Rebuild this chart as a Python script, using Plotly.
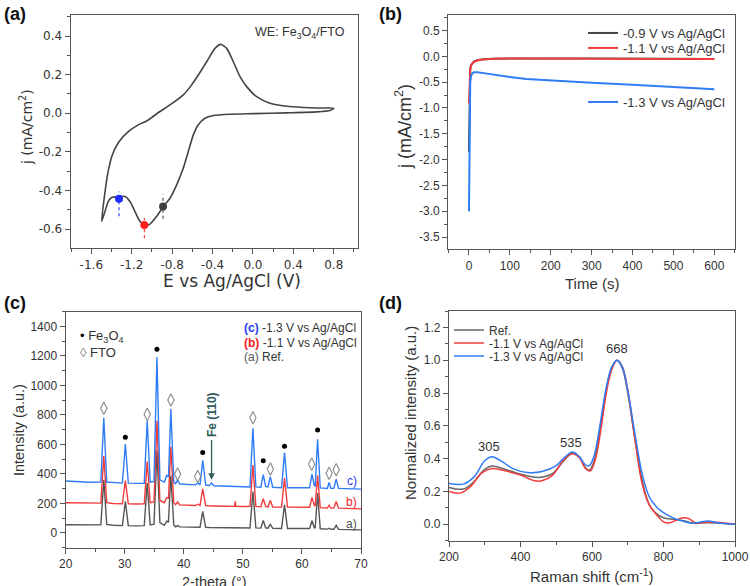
import plotly.graph_objects as go

W, H = 750, 586

# ---------------- (a) cyclic voltammogram ----------------
cv_E = [-1.498, -1.470, -1.440, -1.395, -1.330, -1.234, -1.135, -1.052, -0.920, -0.821,
        -0.689, -0.607, -0.541, -0.458, -0.376, -0.319, -0.260, -0.194, -0.128, -0.062,
        0.037, 0.169, 0.334, 0.499, 0.697, 0.800,
        0.763, 0.631, 0.334, 0.004, -0.227, -0.392, -0.475, -0.541, -0.590, -0.640,
        -0.689, -0.755, -0.821, -0.887, -0.953, -1.019, -1.069, -1.118, -1.168, -1.217,
        -1.267, -1.333, -1.399, -1.432, -1.465, -1.498]
cv_j = [-0.560, -0.430, -0.320, -0.220, -0.150, -0.095, -0.060, -0.040, 0.009, 0.043,
        0.095, 0.147, 0.198, 0.267, 0.336, 0.357, 0.336, 0.267, 0.190, 0.138,
        0.086, 0.052, 0.036, 0.030, 0.027, 0.026,
        0.014, 0.007, 0.002, -0.002, -0.005, -0.012, -0.026, -0.060, -0.112, -0.198,
        -0.284, -0.371, -0.440, -0.483, -0.534, -0.574, -0.581, -0.560, -0.509, -0.457,
        -0.431, -0.433, -0.436, -0.457, -0.509, -0.560]
dot_E = [-1.326, -1.075, -0.890]
dot_j = [-0.443, -0.579, -0.483]
dot_colors = ["#1f2cff", "#ff1f1f", "#404040"]
dot_lo = [-0.534, -0.647, -0.547]
dot_hi = [-0.405, -0.543, -0.419]

# ---------------- (b) chronoamperometry ----------------
t_k = [0, 1, 2, 3, 5, 8, 12, 20, 35, 60, 100, 200, 300, 400, 500, 600]
j_k = [-1.85, -0.60, -0.32, -0.24, -0.17, -0.13, -0.10, -0.075, -0.055, -0.045, -0.040,
       -0.040, -0.040, -0.042, -0.045, -0.050]
t_r = [0, 1, 2, 3, 5, 8, 12, 20, 35, 60, 100, 200, 300, 400, 500, 600]
j_r = [-0.91, -0.55, -0.35, -0.26, -0.19, -0.14, -0.11, -0.08, -0.06, -0.045, -0.040,
       -0.040, -0.040, -0.042, -0.045, -0.050]
t_b = [0, 0.5, 1, 2, 3, 5, 8, 12, 20, 40, 70, 100, 140, 200, 300, 400, 500, 600]
j_b = [-3.0, -2.2, -1.5, -0.8, -0.5, -0.38, -0.33, -0.31, -0.31, -0.33, -0.37, -0.40,
       -0.44, -0.47, -0.51, -0.55, -0.59, -0.635]

# ---------------- (c) XRD ----------------
tt = [20, 22, 24, 25.95, 26.45, 26.95, 28, 29.6, 30.1, 30.6, 32, 33.3, 33.8, 34.3, 34.95,
      35.45, 35.95, 36.7, 37.1, 37.4, 37.8, 38.3, 38.6, 38.95, 39.3, 41, 42.0, 42.35, 42.75,
      43.2, 43.7, 44.3, 44.7, 45.1, 47, 48.6, 48.7, 48.8, 50, 51.2, 51.7, 52.2, 53.05, 53.45,
      53.85, 54.25, 54.65, 55.05, 56.55, 57.05, 57.55, 59, 61.3, 61.7, 62.1, 62.25, 62.65,
      63.1, 64.3, 64.6, 64.9, 65.4, 65.8, 66.2, 68, 70]
xrd_c = [352, 347, 344, 345, 781, 345, 341, 338, 603, 338, 336, 336, 759, 345, 350,
         1193, 360, 345, 390, 380, 840, 345, 333, 360, 332, 328, 326, 340, 325,
         493, 325, 322, 338, 320, 316, 314, 314, 314, 312, 312, 709, 312, 310, 396,
         315, 312, 382, 310, 306, 545, 306, 305, 306, 399, 320, 318, 635,
         305, 302, 342, 302, 302, 365, 302, 300, 297]
xrd_b = [205, 203, 202, 202, 522, 205, 200, 198, 355, 198, 196, 198, 484, 205, 210,
         761, 220, 205, 240, 235, 585, 205, 192, 210, 190, 188, 186, 195, 187,
         299, 186, 184, 186, 183, 181, 180, 215, 180, 179, 180, 461, 180, 178, 232,
         180, 177, 220, 176, 175, 372, 175, 173, 174, 241, 185, 185, 390,
         172, 169, 188, 168, 168, 213, 168, 166, 163]
xrd_a = [56, 55, 53, 55, 360, 58, 52, 50, 214, 50, 48, 50, 338, 55, 60,
         560, 70, 52, 80, 75, 390, 55, 42, 50, 41, 40, 39, 42, 39,
         146, 38, 37, 37, 36, 35, 34, 34, 34, 33, 34, 281, 34, 33, 85,
         35, 32, 58, 31, 30, 191, 30, 29, 30, 83, 35, 35, 270,
         28, 26, 32, 25, 25, 51, 24, 23, 21]
fe3o4_tt = [30.1, 35.45, 43.2, 53.45, 57.05, 62.65]
fe3o4_y = [649, 1245, 545, 489, 588, 698]
fto_tt = [26.45, 33.8, 37.8, 38.95, 42.35, 51.7, 54.65, 61.65, 64.6, 65.8]
fto_y = [845, 804, 901, 400, 383, 781, 434, 466, 405, 428]

# ---------------- (d) Raman ----------------
ram_ref_x = [200, 240, 270, 300, 320, 350, 400, 450, 490, 520, 545, 565, 580, 592, 605,
             620, 640, 655, 670, 685, 700, 720, 740, 760, 780, 800, 830, 860, 890, 920, 950, 1000]
ram_ref_y = [0.225, 0.215, 0.26, 0.335, 0.355, 0.34, 0.305, 0.285, 0.31, 0.385, 0.435, 0.41,
             0.35, 0.33, 0.38, 0.55, 0.82, 0.955, 1.0, 0.95, 0.80, 0.52, 0.27, 0.12, 0.065,
             0.04, 0.03, 0.02, 0.005, 0.01, 0.008, 0.0]
ram_11_x = [200, 230, 260, 290, 320, 350, 400, 440, 460, 490, 520, 545, 565, 580, 595, 610,
            625, 640, 655, 670, 685, 700, 720, 740, 760, 780, 800, 815, 835, 855, 870, 890,
            920, 950, 1000]
ram_11_y = [0.20, 0.19, 0.23, 0.31, 0.34, 0.33, 0.30, 0.265, 0.265, 0.30, 0.39, 0.43, 0.405,
            0.345, 0.325, 0.40, 0.58, 0.80, 0.94, 1.0, 0.96, 0.82, 0.52, 0.25, 0.12, 0.06,
            0.015, 0.008, 0.025, 0.04, 0.035, 0.01, 0.012, 0.012, 0.0]
ram_13_x = [200, 240, 270, 300, 320, 345, 380, 420, 460, 500, 520, 545, 565, 580, 592, 605,
            620, 640, 655, 670, 685, 700, 720, 740, 760, 780, 800, 830, 860, 880, 900, 925,
            950, 1000]
ram_13_y = [0.249, 0.245, 0.289, 0.387, 0.411, 0.387, 0.338, 0.316, 0.322, 0.358, 0.401,
            0.441, 0.411, 0.366, 0.356, 0.411, 0.573, 0.836, 0.957, 1.0, 0.957, 0.816,
            0.553, 0.310, 0.168, 0.107, 0.071, 0.036, 0.016, 0.006, 0.012, 0.020, 0.010, 0.0]
raman_peaks = ["305", "535", "668"]
raman_label_x = [312, 541, 669]
raman_label_y = [0.475, 0.50, 1.069]

# tick labels
a_xt = [-1.6, -1.2, -0.8, -0.4, 0.0, 0.4, 0.8]
a_xl = ["-1.6", "-1.2", "-0.8", "-0.4", "0.0", "0.4", "0.8"]
a_yt = [-0.6, -0.4, -0.2, 0.0, 0.2, 0.4]
a_yl = ["-0.6", "-0.4", "-0.2", "0.0", "0.2", "0.4"]
b_xt = [0, 100, 200, 300, 400, 500, 600]
b_yt = [-3.5, -3.0, -2.5, -2.0, -1.5, -1.0, -0.5, 0.0, 0.5]
b_yl = ["-3.5", "-3.0", "-2.5", "-2.0", "-1.5", "-1.0", "-0.5", "0.0", "0.5"]
c_xt = [20, 30, 40, 50, 60, 70]
c_yt = [0, 200, 400, 600, 800, 1000, 1200, 1400]
d_xt = [200, 400, 600, 800, 1000]
d_yt = [0.0, 0.2, 0.4, 0.6, 0.8, 1.0, 1.2]
d_yl = ["0.0", "0.2", "0.4", "0.6", "0.8", "1.0", "1.2"]

GRAY = "#444444"
RED = "#f23b3b"
BLUE = "#2f7cf6"
AX = "#555555"
TXT = "#333333"
FONT = "Arial, Liberation Sans, sans-serif"
FONT_A = "DejaVu Sans, sans-serif"


def px(x):
    return x / W


def py(y):
    return 1 - y / H


fig = go.Figure()

# (a)
fig.add_trace(go.Scatter(x=cv_E, y=cv_j, mode="lines",
                         line=dict(color=GRAY, width=1.6, shape="spline", smoothing=0.6),
                         xaxis="x", yaxis="y", showlegend=False))
for e, lo, hi, c in zip(dot_E, dot_lo, dot_hi, dot_colors):
    fig.add_trace(go.Scatter(x=[e, e], y=[lo, hi], mode="lines",
                             line=dict(color=c, width=1.1, dash="dot"),
                             xaxis="x", yaxis="y", showlegend=False))
fig.add_trace(go.Scatter(x=dot_E, y=dot_j, mode="markers",
                         marker=dict(color=dot_colors, size=8),
                         xaxis="x", yaxis="y", showlegend=False))

# (b)
fig.add_trace(go.Scatter(x=t_k, y=j_k, mode="lines", line=dict(color=GRAY, width=2),
                         name="-0.9 V vs Ag/AgCl", xaxis="x2", yaxis="y2", legend="legend"))
fig.add_trace(go.Scatter(x=t_r, y=j_r, mode="lines", line=dict(color=RED, width=2),
                         name="-1.1 V vs Ag/AgCl", xaxis="x2", yaxis="y2", legend="legend2"))
fig.add_trace(go.Scatter(x=t_b, y=j_b, mode="lines", line=dict(color=BLUE, width=2),
                         name="-1.3 V vs Ag/AgCl", xaxis="x2", yaxis="y2", legend="legend3"))

# (c)
fig.add_trace(go.Scatter(x=tt, y=xrd_a, mode="lines", line=dict(color="#555555", width=1.4),
                         xaxis="x3", yaxis="y3", showlegend=False))
fig.add_trace(go.Scatter(x=tt, y=xrd_b, mode="lines", line=dict(color=RED, width=1.4),
                         xaxis="x3", yaxis="y3", showlegend=False))
fig.add_trace(go.Scatter(x=tt, y=xrd_c, mode="lines", line=dict(color=BLUE, width=1.4),
                         xaxis="x3", yaxis="y3", showlegend=False))
fig.add_trace(go.Scatter(x=fe3o4_tt, y=fe3o4_y, mode="markers",
                         marker=dict(color="black", size=5), xaxis="x3", yaxis="y3",
                         showlegend=False))
fig.add_trace(go.Scatter(x=fto_tt, y=fto_y, mode="markers",
                         marker=dict(symbol="diamond-tall-open", color="#8a8a8a", size=9,
                                     line=dict(width=1.1)),
                         xaxis="x3", yaxis="y3", showlegend=False))

# (d)
fig.add_trace(go.Scatter(x=ram_ref_x, y=ram_ref_y, mode="lines",
                         line=dict(color="#666666", width=1.5, shape="spline"),
                         name="Ref.", xaxis="x4", yaxis="y4", legend="legend4"))
fig.add_trace(go.Scatter(x=ram_11_x, y=ram_11_y, mode="lines",
                         line=dict(color=RED, width=1.5, shape="spline"),
                         name="-1.1 V vs Ag/AgCl", xaxis="x4", yaxis="y4", legend="legend5"))
fig.add_trace(go.Scatter(x=ram_13_x, y=ram_13_y, mode="lines",
                         line=dict(color=BLUE, width=1.5, shape="spline"),
                         name="-1.3 V vs Ag/AgCl", xaxis="x4", yaxis="y4", legend="legend6"))


def axis(domain, rng, anchor, tickvals, ticktext, minor_dtick, minor_tick0, fsize, family):
    return dict(domain=domain, range=rng, anchor=anchor, showline=True, mirror=True,
                linecolor=AX, linewidth=1.3, ticks="outside", ticklen=5, tickwidth=1.2,
                tickcolor=AX, tickfont=dict(size=fsize, color=TXT, family=family),
                tickmode="array", tickvals=tickvals, ticktext=ticktext,
                minor=dict(ticks="outside", ticklen=3, tickwidth=1, tickcolor=AX,
                           dtick=minor_dtick, tick0=minor_tick0),
                showgrid=False, zeroline=False, automargin=False)


fig.update_layout(
    width=W, height=H, margin=dict(l=0, r=0, t=0, b=0),
    paper_bgcolor="white", plot_bgcolor="white", font=dict(family=FONT, color=TXT),
    xaxis=axis([px(70.7), px(358)], [-1.804, 1.04], "y", a_xt, a_xl, 0.2, -1.6, 12, FONT_A),
    yaxis=axis([py(248), py(15)], [-0.698, 0.509], "x", a_yt, a_yl, 0.1, 0, 12, FONT_A),
    xaxis2=axis([px(448.3), px(735)], [-50.6, 650.6], "y2", b_xt, [str(v) for v in b_xt], 50, 0, 12, FONT),
    yaxis2=axis([py(249), py(15)], [-3.73, 0.8], "x2", b_yt, b_yl, 0.25, 0, 12, FONT),
    xaxis3=axis([px(65.7), px(361)], [20, 70], "y3", c_xt, [str(v) for v in c_xt], 5, 20, 12, FONT),
    yaxis3=axis([py(547.7), py(311.7)], [-100, 1500], "x3", c_yt, [str(v) for v in c_yt], 100, 0, 12, FONT),
    xaxis4=axis([px(449), px(735)], [200, 1000], "y4", d_xt, [str(v) for v in d_xt], 100, 200, 12, FONT),
    yaxis4=axis([py(540.7), py(311)], [-0.1, 1.3], "x4", d_yt, d_yl, 0.1, 0, 12, FONT),
)

leg_common = dict(bgcolor="rgba(0,0,0,0)", borderwidth=0, xanchor="left", yanchor="middle",
                  itemwidth=30, tracegroupgap=0)
fig.update_layout(
    legend=dict(x=px(583), y=py(33), font=dict(size=13, color=TXT), **leg_common),
    legend2=dict(x=px(583), y=py(48), font=dict(size=13, color=TXT), **leg_common),
    legend3=dict(x=px(583), y=py(102), font=dict(size=13, color=TXT), **leg_common),
    legend4=dict(x=px(449), y=py(330), font=dict(size=12, color=TXT), **leg_common),
    legend5=dict(x=px(449), y=py(343), font=dict(size=12, color=TXT), **leg_common),
    legend6=dict(x=px(449), y=py(356), font=dict(size=12, color=TXT), **leg_common),
)

ann = []
# panel letters
for lab, x, y in [("(a)", 2, 14), ("(b)", 377, 14), ("(c)", 2, 303), ("(d)", 377, 303)]:
    ann.append(dict(text="<b>" + lab + "</b>", x=px(x), y=py(y), xref="paper", yref="paper",
                    xanchor="left", yanchor="middle", showarrow=False,
                    font=dict(size=18, color="#111", family=FONT)))
# axis titles
titles = [
    ("E vs Ag/AgCl (V)", 232, 281, 0, 17, FONT_A),
    ("j (mA/cm<sup>2</sup>)", 26, 127, -90, 14, FONT_A),
    ("Time (s)", 592, 283, 0, 15, FONT),
    ("j (mA/cm<sup>2</sup>)", 403, 127, -90, 18, FONT),
    ("2-theta (°)", 214, 582, 0, 14.5, FONT),
    ("Intensity (a.u.)", 19, 430, -90, 14.5, FONT),
    ("Raman shift (cm<sup>-1</sup>)", 592, 575, 0, 15, FONT),
    ("Normalized intensity (a.u.)", 410, 413, -90, 15, FONT),
]
for txt, x, y, ang, fs, fam in titles:
    ann.append(dict(text=txt, x=px(x), y=py(y), xref="paper", yref="paper", textangle=ang,
                    xanchor="center", yanchor="middle", showarrow=False,
                    font=dict(size=fs, color=TXT, family=fam)))
# (a) label
ann.append(dict(text="WE: Fe<sub>3</sub>O<sub>4</sub>/FTO", x=px(347), y=py(33), xref="paper",
                yref="paper", xanchor="right", yanchor="middle", showarrow=False,
                font=dict(size=12.5, color=TXT)))
# (c) legends
ann.append(dict(text="<span style='color:black'>•</span> Fe<sub>3</sub>O<sub>4</sub>", x=22.0, y=1330,
                xref="x3", yref="y3", xanchor="left", yanchor="middle", showarrow=False,
                font=dict(size=13, color=TXT)))
ann.append(dict(text="<span style='color:#888'>◊</span> FTO", x=22.0, y=1222,
                xref="x3", yref="y3", xanchor="left", yanchor="middle", showarrow=False,
                font=dict(size=13, color=TXT)))
for txt, yv in [("<b><span style='color:#1f3cf0'>(c)</span></b> -1.3 V vs Ag/AgCl", 1389),
                ("<b><span style='color:#f02020'>(b)</span></b> -1.1 V vs Ag/AgCl", 1288),
                ("<span style='color:#555'>(a)</span> Ref.", 1193)]:
    ann.append(dict(text=txt, x=49.9, y=yv, xref="x3", yref="y3", xanchor="left",
                    yanchor="middle", showarrow=False, font=dict(size=12, color=TXT)))
for txt, col, yv in [("c)", "#1f3cf0", 355), ("b)", "#f02020", 213), ("a)", "#555", 61)]:
    ann.append(dict(text=txt, x=69.6, y=yv, xref="x3", yref="y3", xanchor="right",
                    yanchor="middle", showarrow=False, font=dict(size=12, color=col)))
ann.append(dict(text="<b>Fe (110)</b>", x=44.8, y=800, xref="x3", yref="y3", textangle=-90,
                showarrow=False, font=dict(size=12, color="#2f5d5a")))
ann.append(dict(text="", x=44.7, y=360, ax=44.7, ay=640, xref="x3", yref="y3", axref="x3",
                ayref="y3", showarrow=True, arrowhead=2, arrowsize=1, arrowwidth=1.3,
                arrowcolor="#2f5d5a"))
# (d) peak labels
for p, xv, yv in zip(raman_peaks, raman_label_x, raman_label_y):
    ann.append(dict(text=p, x=xv, y=yv, xref="x4", yref="y4",
                    showarrow=False, font=dict(size=13, color=TXT)))
fig.update_layout(annotations=ann)

fig.write_html("out.html", config={"displayModeBar": False},
               post_script="document.body.style.margin='0px';")
